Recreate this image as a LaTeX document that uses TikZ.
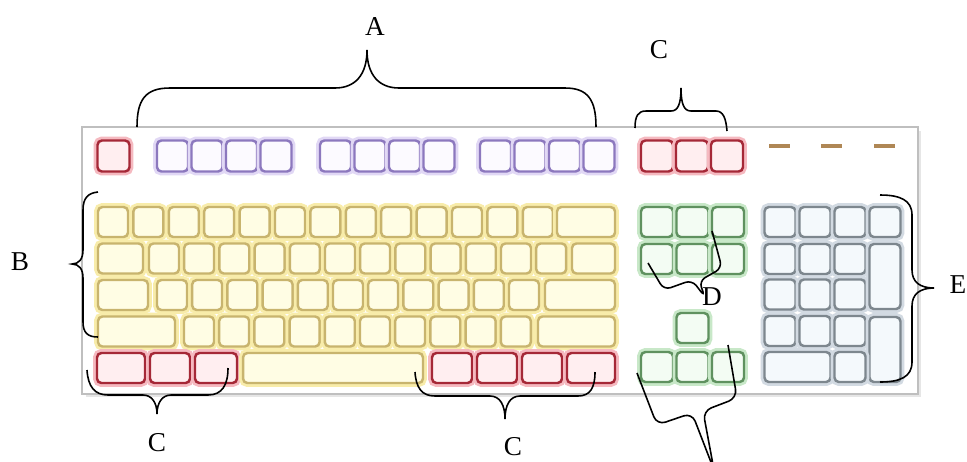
\documentclass[tikz,border=0pt]{standalone}
\usepackage{fontspec}
\setmainfont{Liberation Serif}
\usetikzlibrary{shadows}

\definecolor{kred}{RGB}{165,40,55}
\definecolor{kredfill}{RGB}{255,238,240}
\definecolor{kredglow}{RGB}{245,185,192}
\definecolor{kpurple}{RGB}{140,120,190}
\definecolor{kpurplefill}{RGB}{252,250,255}
\definecolor{kpurpleglow}{RGB}{225,216,245}
\definecolor{kyellow}{RGB}{200,180,110}
\definecolor{kyellowfill}{RGB}{255,253,228}
\definecolor{kyellowglow}{RGB}{248,236,170}
\definecolor{kgreen}{RGB}{95,145,95}
\definecolor{kgreenfill}{RGB}{243,252,243}
\definecolor{kgreenglow}{RGB}{200,232,200}
\definecolor{kgray}{RGB}{125,135,142}
\definecolor{kgrayfill}{RGB}{244,249,252}
\definecolor{kgrayglow}{RGB}{210,218,226}
\definecolor{ledbrown}{RGB}{175,135,85}

\begin{document}
\begin{tikzpicture}[x=0.02cm, y=-0.02cm,
		key/.style={rectangle, rounded corners=2.5pt, line width=1.4pt, minimum width=0.6cm, minimum height=0.6cm, inner sep=0pt},
		redkey/.style={key, draw=kred, fill=kredfill, preaction={draw=kredglow, line width=4.5pt}},
		purplekey/.style={key, draw=kpurple, fill=kpurplefill, minimum width=0.62cm, minimum height=0.62cm, preaction={draw=kpurpleglow, line width=4.5pt}},
		yellowkey/.style={key, draw=kyellow, fill=kyellowfill, preaction={draw=kyellowglow, line width=4.5pt}},
		greenkey/.style={key, draw=kgreen, fill=kgreenfill, minimum width=0.64cm, preaction={draw=kgreenglow, line width=4.5pt}},
		graykey/.style={key, draw=kgray, fill=kgrayfill, minimum width=0.62cm, preaction={draw=kgrayglow, line width=4.5pt}},
		led/.style={rectangle, fill=ledbrown, minimum width=0.42cm, minimum height=0.07cm, inner sep=0pt},
		case/.style={rectangle, draw=black!25, line width=1.3pt, fill=white, minimum width=16.72cm, minimum height=5.34cm, drop shadow={shadow xshift=2pt, shadow yshift=-2pt, opacity=0.2}},
		curly/.style={black, line width=0.9pt},
		lbl/.style={font=\fontsize{15.5}{18}\selectfont, inner sep=0pt}]

	\useasboundingbox (0,0) rectangle (967,461);

	\node[case] (kbd) at (500,260.5) {};

	% top row
	\node[redkey, minimum width=0.64cm, minimum height=0.62cm] (esc) at (113.5,156) {};
	\foreach \i in {0,...,3}
	{
		\node[purplekey] (f_\i) at (172.5 + 34.5*\i, 156) {};
		\node[purplekey] (g_\i) at (335.5 + 34.5*\i, 156) {};
		\node[purplekey] (h_\i) at (495.5 + 34.5*\i, 156) {};
	}
	\foreach \i in {0,...,2}
	{
		\node[redkey, minimum width=0.64cm, minimum height=0.62cm] (p_\i) at (657 + 35*\i, 156) {};
	}
	\foreach \x [count=\i] in {779,831,884}
	{
		\node[led] (led_\i) at (\x, 146) {};
	}

	% main block
	\foreach \i in {0,...,12}
	{
		\node[yellowkey] (r1_\i) at (113 + 35.4*\i, 222) {};
	}
	\node[yellowkey, minimum width=1.16cm] (bksp) at (586,222) {};

	\node[yellowkey, minimum width=0.9cm] (tab) at (120.5,258.5) {};
	\foreach \i in {0,...,11}
	{
		\node[yellowkey] (r2_\i) at (164 + 35.2*\i, 258.5) {};
	}
	\node[yellowkey, minimum width=0.86cm] (bslash) at (593.5,258.5) {};

	\node[yellowkey, minimum width=1cm] (caps) at (123,295) {};
	\foreach \i in {0,...,10}
	{
		\node[yellowkey] (r3_\i) at (172 + 35.2*\i, 295) {};
	}
	\node[yellowkey, minimum width=1.4cm] (enter) at (580,295) {};

	\node[yellowkey, minimum width=1.54cm] (lshift) at (136.5,331.5) {};
	\foreach \i in {0,...,9}
	{
		\node[yellowkey] (r4_\i) at (199 + 35.2*\i, 331.5) {};
	}
	\node[yellowkey, minimum width=1.54cm] (rshift) at (576.5,331.5) {};

	\node[redkey, minimum width=0.96cm] (lctrl) at (121,368) {};
	\node[redkey, minimum width=0.8cm] (lwin) at (170,368) {};
	\node[redkey, minimum width=0.84cm] (lalt) at (216,368) {};
	\node[yellowkey, minimum width=3.6cm] (space) at (333,368) {};
	\foreach \x [count=\i] in {452,497,542}
	{
		\node[redkey, minimum width=0.8cm] (rmod_\i) at (\x, 368) {};
	}
	\node[redkey, minimum width=0.96cm] (rctrl) at (591,368) {};

	% navigation block
	\foreach \i in {0,...,2}
	{
		\node[greenkey] (ins_\i) at (657 + 35.5*\i, 222) {};
		\node[greenkey] (del_\i) at (657 + 35.5*\i, 259) {};
		\node[greenkey] (arr_\i) at (657 + 35.5*\i, 367) {};
	}
	\node[greenkey] (up) at (692.5,328) {};

	% numeric pad
	\foreach \i in {0,...,3}
	{
		\node[graykey] (n1_\i) at (780 + 35*\i, 222) {};
	}
	\foreach \i in {0,...,2}
	{
		\node[graykey] (n2_\i) at (780 + 35*\i, 259) {};
		\node[graykey] (n3_\i) at (780 + 35*\i, 294.5) {};
		\node[graykey] (n4_\i) at (780 + 35*\i, 331) {};
	}
	\node[graykey, minimum height=1.3cm] (plus) at (885,276.5) {};
	\node[graykey, minimum height=1.3cm] (npenter) at (885,349.5) {};
	\node[graykey, minimum width=1.32cm] (zero) at (797.5,367) {};
	\node[graykey] (dot) at (850,367) {};

	% braces
	\draw[curly] (137,127) .. controls (137,100) and (145,88) .. (170,88) -- (335,88)
		.. controls (355,88) and (367,75) .. (367,50) .. controls (367,75) and (379,88) .. (399,88)
		-- (565,88) .. controls (588,88) and (596,100) .. (596,127);
	\draw[curly] (635,128) .. controls (635,116) and (638,111) .. (646,111) -- (671,111)
		.. controls (678,111) and (681,104) .. (681,88) .. controls (681,104) and (684,111) .. (691,111)
		-- (716,111) .. controls (723,111) and (726,118) .. (727,131);
	\draw[curly] (98,192) .. controls (88,193) and (83,198) .. (83,210) -- (83,250)
		.. controls (83,259) and (79,264) .. (72,264) .. controls (79,264) and (83,269) .. (83,278)
		-- (83,322) .. controls (83,333) and (88,337) .. (98,337);
	\draw[curly] (87,370) .. controls (88,387) and (95,395) .. (108,395) -- (143,395)
		.. controls (152,395) and (157,403) .. (157,414) .. controls (157,403) and (162,395) .. (171,395)
		-- (208,395) .. controls (222,395) and (228,385) .. (228,368);
	\draw[curly] (415,372) .. controls (416,388) and (422,396) .. (435,396) -- (490,396)
		.. controls (500,396) and (505,405) .. (505,419) .. controls (505,405) and (510,396) .. (520,396)
		-- (578,396) .. controls (590,396) and (595,388) .. (595,372);
	\draw[curly] (880,195) .. controls (900,195) and (912,200) .. (912,215) -- (912,270)
		.. controls (912,282) and (920,288) .. (934,288) .. controls (920,288) and (912,294) .. (912,306)
		-- (912,362) .. controls (912,377) and (900,382) .. (880,382);
	\draw[curly, rounded corners=4pt] (648,263) -- (664,290) -- (692,280) -- (705,297) -- (699,281) -- (722,268) -- (712,231);
	\draw[curly, rounded corners=5pt] (637,373) -- (657,425) -- (692,413) -- (714,470) -- (703,411) -- (737,398) -- (728,345);

	% labels
	\node[lbl] (labA) at (375,27) {A};
	\node[lbl] (labB) at (20,262) {B};
	\node[lbl] (labC1) at (659,50) {C};
	\node[lbl] (labC2) at (157,443) {C};
	\node[lbl] (labC3) at (513,447) {C};
	\node[lbl] (labD) at (712,297) {D};
	\node[lbl] (labE) at (958,285) {E};
\end{tikzpicture}
\end{document}
